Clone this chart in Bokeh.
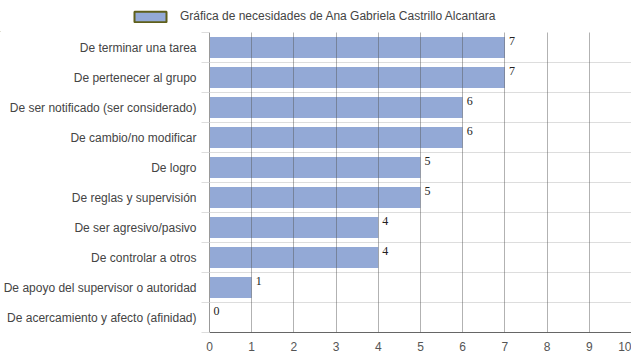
from bokeh.plotting import figure
from bokeh.layouts import column
from bokeh.models import (ColumnDataSource, FixedTicker, Range1d, Legend, LegendItem)
from bokeh.core.properties import value
from bokeh.embed import file_html
from bokeh.resources import INLINE

categories = [
    "De terminar una tarea",
    "De pertenecer al grupo",
    "De ser notificado (ser considerado)",
    "De cambio/no modificar",
    "De logro",
    "De reglas y supervisión",
    "De ser agresivo/pasivo",
    "De controlar a otros",
    "De apoyo del supervisor o autoridad",
    "De acercamiento y afecto (afinidad)",
]
values = [7, 7, 6, 6, 5, 5, 4, 4, 1, 0]
series_name = "Gráfica de necesidades de Ana Gabriela Castrillo Alcantara"
x_ticks = [0, 1, 2, 3, 4, 5, 6, 7, 8, 9, 10]

BAR = "#93a9d6"
n = len(categories)
idx = list(range(n))
src = ColumnDataSource(dict(y=idx, v=values, lab=[str(v) for v in values]))

# ---- legend strip ----
lg = figure(width=623, height=32, output_backend="svg", toolbar_location=None,
            x_range=Range1d(0, 1), y_range=Range1d(0, 1),
            x_axis_type=None, y_axis_type=None,
            min_border_left=0, min_border_right=0, min_border_top=0, min_border_bottom=0)
lg.frame_align = False
lg.outline_line_color = None
lg.xgrid.visible = False
lg.ygrid.visible = False
dummy = lg.hbar(y=[-10], right=[-10], left=[-11], height=0.7, fill_color=BAR,
                line_color="#5f5f1a", line_width=2)
legend = Legend(items=[LegendItem(label=series_name, renderers=[dummy])],
                location=(130, 9), orientation="horizontal",
                glyph_width=40, glyph_height=13, label_standoff=10,
                padding=0, margin=0, border_line_color=None,
                background_fill_alpha=0,
                label_text_font="Liberation Sans", label_text_font_size="12px",
                label_text_color="#444444", label_height=13)
lg.add_layout(legend, "center")

# ---- main chart ----
p = figure(width=631, height=322, output_backend="svg", toolbar_location=None,
           x_range=Range1d(0, 10), y_range=Range1d(n - 0.5, -0.5),
           min_border_left=200, min_border_right=0, min_border_top=0, min_border_bottom=22)
p.frame_align = False
p.outline_line_color = None

p.hbar(y="y", right="v", left=0, height=0.7, source=src,
       fill_color=BAR, line_color=None)
p.text(x="v", y="y", text="lab", source=src, x_offset=4, y_offset=-11,
       text_baseline="top", text_align="left", text_font=value("Liberation Serif"),
       text_font_size="12px", text_color="#222222")

# x axis
p.xaxis.ticker = FixedTicker(ticks=x_ticks)
p.xaxis.major_tick_out = 0
p.xaxis.major_tick_in = 0
p.xaxis.minor_tick_out = 0
p.xaxis.minor_tick_in = 0
p.xaxis.axis_line_color = "#666666"
p.xaxis.major_label_text_font = "Liberation Sans"
p.xaxis.major_label_text_font_size = "12px"
p.xaxis.major_label_text_color = "#555555"
p.xaxis.major_label_standoff = 9

# y axis
p.yaxis.ticker = FixedTicker(ticks=idx, minor_ticks=[i - 0.5 for i in range(n + 1)])
p.yaxis.major_label_overrides = {i: c for i, c in enumerate(categories)}
p.yaxis.major_tick_out = 0
p.yaxis.major_tick_in = 0
p.yaxis.minor_tick_out = 8
p.yaxis.minor_tick_in = 0
p.yaxis.minor_tick_line_color = "#dddddd"
p.yaxis.axis_line_color = "#999999"
p.yaxis.major_label_text_font = "Liberation Sans"
p.yaxis.major_label_text_font_size = "12px"
p.yaxis.major_label_text_color = "#444444"
p.yaxis.major_label_standoff = 5

# grids
p.ygrid.grid_line_color = None
p.ygrid.minor_grid_line_color = "#dddddd"
p.xgrid.ticker = FixedTicker(ticks=x_ticks)
p.xgrid.grid_line_color = "#555555"
p.xgrid.grid_line_alpha = 0.45
p.xgrid.level = "overlay"

layout = column(lg, p, spacing=0)
open("out.html", "w").write(file_html(layout, INLINE))
